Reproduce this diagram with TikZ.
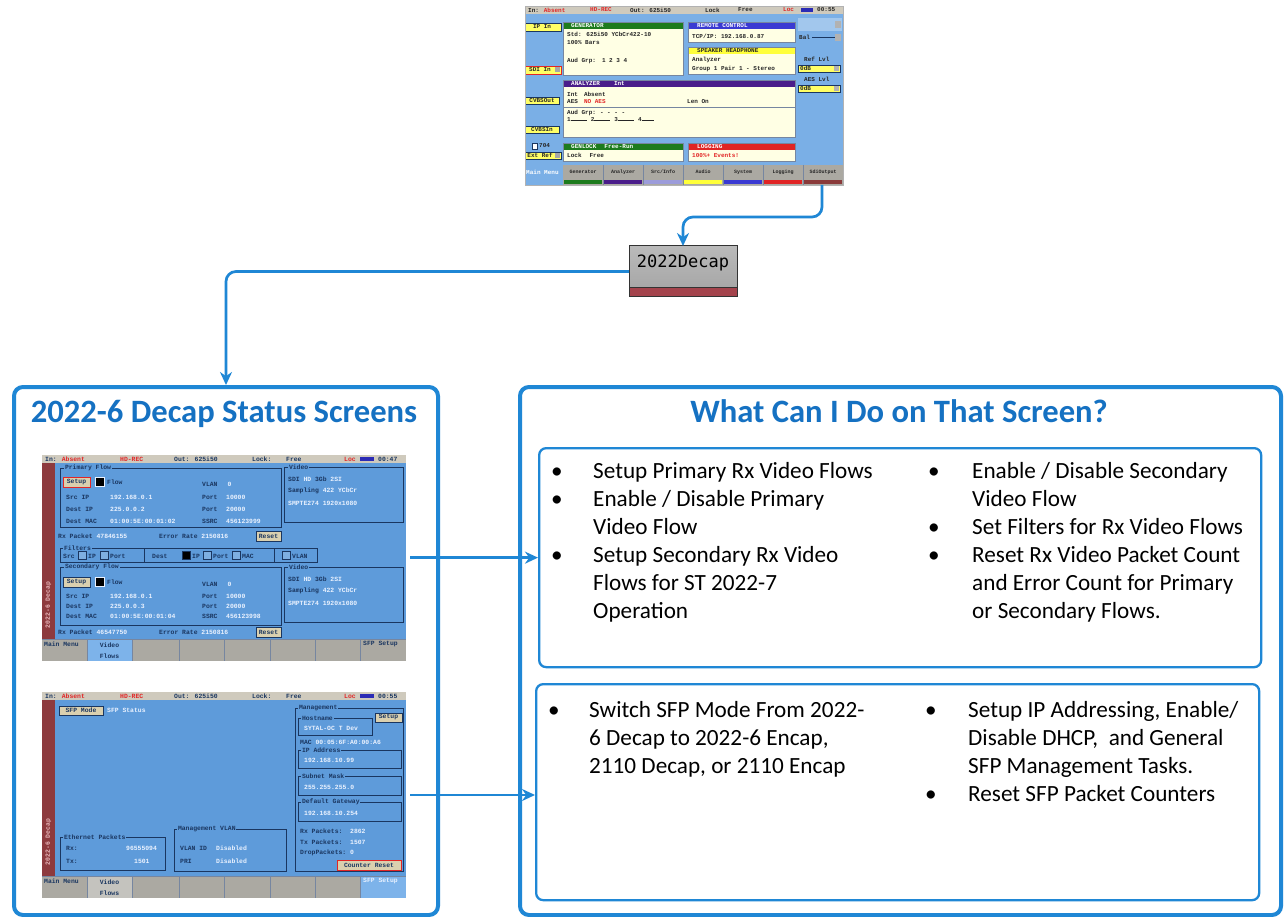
\documentclass[tikz,border=0pt]{standalone}
\usepackage{fontspec}
\setmainfont{Carlito}
\newfontfamily\scrfont{Liberation Mono}
\newfontfamily\decapfont{DejaVu Sans Mono}
\usetikzlibrary{arrows.meta, calc}
\definecolor{panelBlue}{HTML}{1F87D5}
\definecolor{titleBlue}{HTML}{1571C2}
\definecolor{scrBlue}{HTML}{5E9BDA}
\definecolor{topBlue}{HTML}{7AAFE6}
\definecolor{scrDark}{HTML}{1A3660}
\definecolor{scrLight}{HTML}{EAF2FF}
\definecolor{scrBar}{HTML}{CFCABD}
\definecolor{scrKey}{HTML}{ABA9A2}
\definecolor{scrKeyOn}{HTML}{7DB3EA}
\definecolor{scrStrip}{HTML}{8D3A3E}
\definecolor{scrPink}{HTML}{E9B8BC}
\definecolor{scrBeige}{HTML}{DAD0AF}
\definecolor{scrRed}{HTML}{E22626}
\definecolor{scrBatt}{HTML}{2B2BB5}
\definecolor{scrYellow}{HTML}{FFFF66}
\definecolor{scrCream}{HTML}{FFFFE4}
\definecolor{hdrGreen}{HTML}{1D7B1D}
\definecolor{hdrBlue}{HTML}{3A3AD2}
\definecolor{hdrYellow}{HTML}{FFFF3A}
\definecolor{hdrPurple}{HTML}{4A1D8A}
\definecolor{hdrRed}{HTML}{E02424}
\definecolor{hdrLilac}{HTML}{9C9CDA}
\definecolor{hdrBrown}{HTML}{8A3A3A}
\definecolor{decapGray}{HTML}{A3A3A3}
\definecolor{decapRed}{HTML}{A4434C}

\begin{document}
\begin{tikzpicture}[
  x=1pt, y=-1pt,
  >={Stealth[length=13pt, width=12pt]},
  panel/.style={draw=panelBlue, line width=4pt, rounded corners=9pt, inner sep=0pt, anchor=north west},
  infobox/.style={draw=panelBlue, line width=2.3pt, rounded corners=7pt, inner sep=0pt, anchor=north west},
  flow/.style={->, line width=2.7pt, draw=panelBlue},
  headline/.style={font=\fontsize{32.6}{39}\selectfont\bfseries, text=titleBlue, inner sep=0pt, anchor=base},
  itemtext/.style={font=\fontsize{23.2}{28}\selectfont, inner sep=0pt, anchor=base west},
  bulletmark/.style={font=\fontsize{23.2}{28}\selectfont, inner sep=0pt, anchor=base},
  shot/.style={inner sep=0pt, outer sep=0pt, anchor=north west},
  decapbox/.style={draw=black!80, line width=1pt, top color=decapGray!75, bottom color=decapGray,
                   inner sep=0pt, outer sep=0pt, anchor=north west, minimum width=108pt, minimum height=51pt},
  stxt/.style={font=\scrfont\bfseries\fontsize{6.4}{7}\selectfont, text=scrDark, inner sep=0pt, anchor=west},
  sval/.style={stxt, text=scrLight},
  slbl/.style={stxt, fill=scrBlue, inner xsep=0.8pt, inner ysep=0.4pt},
  ttxt/.style={stxt, font=\scrfont\bfseries\fontsize{6}{6.6}\selectfont, text=black!85},
  hdr/.style={ttxt, text=white},
  sbtn/.style={draw=scrDark, fill=scrBeige, line width=0.5pt},
  ybtn/.style={draw=scrDark, fill=scrYellow, line width=0.5pt},
  sfrm/.style={draw=scrDark, line width=0.8pt},
  sbox/.style={draw=scrDark, fill=scrBlue!80!white, line width=0.5pt},
  skey/.style={draw=scrDark!60, line width=0.5pt},
  tpanel/.style={draw=scrDark!60, line width=0.4pt}
]
\fill[white] (0,0) rectangle (1285,917);
\useasboundingbox (0,0) rectangle (1285,917);

\node[panel, minimum width=424pt, minimum height=528pt] (leftpanel) at (12,385) {};
\node[panel, minimum width=761pt, minimum height=528pt] (rightpanel) at (518,385) {};
\node[infobox, minimum width=722pt, minimum height=219pt] (box1) at (538,447) {};
\node[infobox, minimum width=723pt, minimum height=216pt] (box2) at (535,683) {};
\node[headline] (lefttitle) at (224,422) {2022-6 Decap Status Screens};
\node[headline] (righttitle) at (899,422) {What Can I Do on That Screen?};

\foreach \ty/\tx [count=\i] in {478/{Setup Primary Rx Video Flows}, 506/{Enable / Disable Primary},
    534/{Video Flow}, 562/{Setup Secondary Rx Video}, 590/{Flows for ST 2022-7}, 618/{Operation}}
  \node[itemtext] (pl\i) at (593,\ty) {\tx};
\foreach \ty/\tx [count=\i] in {478/{Enable / Disable Secondary}, 506/{Video Flow},
    534/{Set Filters for Rx Video Flows}, 562/{Reset Rx Video Packet Count},
    590/{and Error Count for Primary}, 618/{or Secondary Flows.}}
  \node[itemtext] (pr\i) at (972,\ty) {\tx};
\foreach \ty/\tx [count=\i] in {717/{Switch SFP Mode From 2022-}, 745/{6 Decap to 2022-6 Encap,},
    773/{2110 Decap, or 2110 Encap}}
  \node[itemtext] (sl\i) at (589,\ty) {\tx};
\foreach \ty/\tx [count=\i] in {717/{Setup IP Addressing, Enable/}, 745/{Disable DHCP,\ \ and General},
    773/{SFP Management Tasks.}, 801/{Reset SFP Packet Counters}}
  \node[itemtext] (sr\i) at (968,\ty) {\tx};
\foreach \bx/\by [count=\i] in {557/478, 557/506, 557/562, 934/478, 934/534, 934/562, 554/717, 931/717, 931/801}
  \node[bulletmark] (bm\i) at (\bx,\by) {\textbullet};

\node[decapbox] (decap) at (629,246) {};
\fill[decapRed] ($(decap.south west)+(0,-10)$) rectangle (decap.south east);
\draw[black!80, line width=0.8pt] ($(decap.south west)+(0,-10)$) -- ($(decap.south east)+(0,-10)$);
\draw[black!80, line width=1pt] (decap.north west) rectangle (decap.south east);
\node[font=\decapfont\fontsize{17}{20}\selectfont, inner sep=0pt, anchor=base] (decaplbl) at ($(decap.north)+(0,22)$) {2022Decap};

\node[shot, minimum width=318pt, minimum height=179pt] (topshot) at (525,6) {};
\begin{scope}[shift={(525,6)}]
  \fill[topBlue] (0,0) rectangle (318,179);
  \fill[scrBar] (0,0) rectangle (318,8);
  \node[ttxt] (t1) at (3,4) {In: \textcolor{scrRed}{Absent}};
  \node[ttxt, text=scrRed] (t2) at (65,4) {HD-REC};
  \node[ttxt] (t3) at (105,4) {Out: 625i50};
  \node[ttxt] (t4) at (180,4) {Lock};
  \node[ttxt] (t5) at (213,4) {Free};
  \node[ttxt, text=scrRed] (t6) at (258,4) {Loc};
  \fill[scrBatt] (276,1.8) rectangle (288,6.2);
  \node[ttxt] (t7) at (292,4) {00:55};
  \draw[ybtn] (0,17) rectangle (36,25);
  \node[ttxt, anchor=center] (t8) at (17,21) {IP In};
  \draw[ybtn, draw=scrRed, line width=0.8pt] (0,60) rectangle (36,68);
  \fill[gray!70] (30,61.5) rectangle (35,66.5);
  \node[ttxt, anchor=center] (t9) at (15,64) {SDI In};
  \draw[ybtn] (0,91) rectangle (34,98);
  \node[ttxt, anchor=center] (t10) at (17,94.5) {CVBSOut};
  \draw[ybtn] (0,120) rectangle (34,127);
  \node[ttxt, anchor=center] (t11) at (17,123.5) {CVBSIn};
  \draw[scrDark, fill=white, line width=0.5pt] (7,137) rectangle (12,143);
  \node[ttxt] (t12) at (14,140) {704};
  \draw[ybtn] (0,146) rectangle (36,153);
  \fill[gray!70] (30,147) rectangle (35,152);
  \node[ttxt, anchor=center] (t13) at (15,149.5) {Ext Ref};
  \fill[scrCream] (38,16) rectangle (158,69);
  \fill[hdrGreen] (38,16) rectangle (158,23);
  \draw[tpanel] (38,16) rectangle (158,69);
  \node[hdr] (t14) at (46,19.5) {GENERATOR};
  \node[ttxt] (t15) at (42,28) {Std: 625i50 YCbCr422-10};
  \node[ttxt] (t16) at (42,37) {100\% Bars};
  \node[ttxt] (t17) at (42,55) {Aud Grp:\hspace{6pt}1 2 3 4};
  \fill[scrCream] (163,16) rectangle (270,36);
  \fill[hdrBlue] (163,16) rectangle (270,23);
  \draw[tpanel] (163,16) rectangle (270,36);
  \node[hdr] (t18) at (172,19.5) {REMOTE CONTROL};
  \node[ttxt] (t19) at (167,30) {TCP/IP: 192.168.0.87};
  \fill[scrCream] (163,41) rectangle (270,68);
  \fill[hdrYellow] (163,41) rectangle (270,48);
  \draw[tpanel] (163,41) rectangle (270,68);
  \node[ttxt] (t20) at (172,44.5) {SPEAKER HEADPHONE};
  \node[ttxt] (t21) at (167,54) {Analyzer};
  \node[ttxt] (t22) at (167,63) {Group 1 Pair 1 - Stereo};
  \fill[scrCream] (38,74) rectangle (270,131);
  \fill[hdrPurple] (38,74) rectangle (270,81);
  \draw[tpanel] (38,74) rectangle (270,131);
  \draw[tpanel] (38,101) -- (270,101);
  \node[hdr] (t23) at (46,77.5) {ANALYZER\hspace{14pt}Int};
  \node[ttxt] (t24) at (42,88) {Int\hspace{6pt}Absent};
  \node[ttxt] (t25) at (42,96) {AES\hspace{6pt}\textcolor{scrRed}{NO AES}};
  \node[ttxt] (t26) at (162,96) {Len On};
  \node[ttxt] (t27) at (42,107) {Aud Grp:\hspace{4pt}- - - -};
  \node[ttxt] (t28) at (42,114) {1\rule[1.6pt]{16pt}{0.5pt}\hspace{4pt}2\rule[1.6pt]{16pt}{0.5pt}\hspace{4pt}3\rule[1.6pt]{16pt}{0.5pt}\hspace{4pt}4\rule[1.6pt]{12pt}{0.5pt}};
  \fill[scrCream] (38,137) rectangle (158,155);
  \fill[hdrGreen] (38,137) rectangle (158,144);
  \draw[tpanel] (38,137) rectangle (158,155);
  \node[hdr] (t29) at (46,140.5) {GENLOCK\hspace{8pt}Free-Run};
  \node[ttxt] (t30) at (42,149.5) {Lock\hspace{8pt}Free};
  \fill[scrCream] (163,137) rectangle (270,155);
  \fill[hdrRed] (163,137) rectangle (270,144);
  \draw[tpanel] (163,137) rectangle (270,155);
  \node[hdr] (t31) at (172,140.5) {LOGGING};
  \node[ttxt, text=scrRed] (t32) at (167,149.5) {100\%+ Events!};
  \fill[topBlue!70!white] (273,12) rectangle (317,25);
  \fill[gray!60] (310,15) rectangle (316,22);
  \draw[scrDark, line width=0.5pt] (287,31) -- (310,31);
  \fill[gray!60] (310,28) rectangle (316,35);
  \node[ttxt] (t33) at (274,31) {Bal};
  \node[ttxt] (t34) at (279,53) {Ref Lvl};
  \draw[ybtn] (273,59) rectangle (315,66);
  \fill[gray!60] (309,60) rectangle (314,65);
  \node[ttxt] (t35) at (275,62.5) {0dB};
  \node[ttxt] (t36) at (279,73) {AES Lvl};
  \draw[ybtn] (273,79) rectangle (315,86);
  \fill[gray!60] (309,80) rectangle (314,85);
  \node[ttxt] (t37) at (275,82.5) {0dB};
  \node[ttxt, text=white] (t38) at (1,166) {Main Menu};
  \fill[scrKey] (38,159) rectangle (318,179);
  \foreach \kx/\kc [count=\k] in {38/hdrGreen, 78/hdrPurple, 118/hdrLilac, 158/hdrYellow, 198/hdrBlue, 238/hdrRed, 278/hdrBrown}
    \fill[\kc] (\kx+1,174) rectangle (\kx+39,178);
  \foreach \kx in {78,118,158,198,238,278}
    \draw[skey] (\kx,159) -- (\kx,179);
  \foreach \kx/\kt [count=\k] in {58/Generator, 98/Analyzer, 138/{Src/Info}, 178/Audio, 218/System, 258/Logging, 298/SdiOutput}
    \node[ttxt, anchor=center, font=\scrfont\bfseries\fontsize{5}{6}\selectfont] (tk\k) at (\kx,166) {\kt};
\end{scope}
\draw[gray!60, line width=0.5pt] (topshot.north west) rectangle (topshot.south east);

\node[shot, minimum width=364pt, minimum height=206pt] (scr1) at (42,455) {};
\begin{scope}[shift={(42,455)}]
  \fill[scrBlue] (0,0) rectangle (364,206);
  \fill[scrBar] (0,0) rectangle (364,8);
  \fill[scrStrip] (0,8) rectangle (13,184);
  \node[stxt] (a1) at (3,4) {In: \textcolor{scrRed}{Absent}};
  \node[stxt, text=scrRed] (a2) at (78,4) {HD-REC};
  \node[stxt] (a3) at (132,4) {Out: 625i50};
  \node[stxt] (a4) at (210,4) {Lock:};
  \node[stxt] (a5) at (244,4) {Free};
  \node[stxt, text=scrRed] (a6) at (302,4) {Loc};
  \fill[scrBatt] (318,1.8) rectangle (332,6.2);
  \node[stxt] (a7) at (336,4) {00:47};
  \node[stxt, text=scrPink, anchor=center, rotate=90] (a8) at (6.5,150) {2022-6 Decap};
  \draw[sfrm] (18,13) rectangle (239,72);
  \node[slbl] (a9) at (22,13) {Primary Flow};
  \draw[sbtn, draw=scrRed, line width=0.9pt] (21,22) rectangle (48,32);
  \node[stxt, anchor=center] (a10) at (34.5,27) {Setup};
  \draw[fill=black, draw=scrLight, line width=0.5pt] (53,22.5) rectangle (62,31.5);
  \node[stxt] (a11) at (65,27) {Flow};
  \node[stxt] (a12) at (160,29) {VLAN\hspace{10pt}\textcolor{scrLight}{0}};
  \node[stxt] (a13) at (24,42) {\makebox[44pt][l]{Src IP}\textcolor{scrLight}{\makebox[92pt][l]{192.168.0.1}}\makebox[24pt][l]{Port}\textcolor{scrLight}{10000}};
  \node[stxt] (a14) at (24,54) {\makebox[44pt][l]{Dest IP}\textcolor{scrLight}{\makebox[92pt][l]{225.0.0.2}}\makebox[24pt][l]{Port}\textcolor{scrLight}{20000}};
  \node[stxt] (a15) at (24,66) {\makebox[44pt][l]{Dest MAC}\textcolor{scrLight}{\makebox[92pt][l]{01:00:5E:00:01:02}}\makebox[24pt][l]{SSRC}\textcolor{scrLight}{456123999}};
  \draw[sfrm] (242,12) rectangle (361,67);
  \node[slbl] (a16) at (246,12) {Video};
  \node[stxt] (a17) at (246,24) {SDI \textcolor{scrLight}{HD} 3Gb \textcolor{scrLight}{2SI}};
  \node[stxt] (a18) at (246,36) {Sampling \textcolor{scrLight}{422 YCbCr}};
  \node[sval] (a19) at (246,48) {SMPTE274 1920x1080};
  \node[stxt] (a20) at (16,81) {\makebox[101pt][l]{Rx Packet \textcolor{scrLight}{47846155}}Error Rate \textcolor{scrLight}{2150816}};
  \draw[sbtn] (214,76) rectangle (239,86);
  \node[stxt, anchor=center] (a21) at (226.5,81) {Reset};
  \draw[sfrm] (18,93) rectangle (275,107);
  \draw[sfrm] (102,93) -- (102,107);
  \draw[sfrm] (232,93) -- (232,107);
  \node[slbl] (a22) at (21,93) {Filters};
  \foreach \cx in {36,58,161,190,240}
    \draw[sbox] (\cx,96.5) rectangle ++(8,8);
  \draw[fill=black, draw=scrDark] (140,96.5) rectangle ++(8,8);
  \node[stxt] (a23) at (21,101) {Src};
  \node[stxt] (a24) at (46,101) {IP};
  \node[stxt] (a25) at (68,101) {Port};
  \node[stxt] (a26) at (110,101) {Dest};
  \node[stxt] (a27) at (150,101) {IP};
  \node[stxt] (a28) at (171,101) {Port};
  \node[stxt] (a29) at (200,101) {MAC};
  \node[stxt] (a30) at (250,101) {VLAN};
  \draw[sfrm] (18,112) rectangle (239,170);
  \node[slbl] (a31) at (22,112) {Secondary Flow};
  \draw[sbtn] (21,122) rectangle (48,132);
  \node[stxt, anchor=center] (a32) at (34.5,127) {Setup};
  \draw[fill=black, draw=scrLight, line width=0.5pt] (53,122.5) rectangle (62,131.5);
  \node[stxt] (a33) at (65,127) {Flow};
  \node[stxt] (a34) at (160,129) {VLAN\hspace{10pt}\textcolor{scrLight}{0}};
  \node[stxt] (a35) at (24,141) {\makebox[44pt][l]{Src IP}\textcolor{scrLight}{\makebox[92pt][l]{192.168.0.1}}\makebox[24pt][l]{Port}\textcolor{scrLight}{10000}};
  \node[stxt] (a36) at (24,151) {\makebox[44pt][l]{Dest IP}\textcolor{scrLight}{\makebox[92pt][l]{225.0.0.3}}\makebox[24pt][l]{Port}\textcolor{scrLight}{20000}};
  \node[stxt] (a37) at (24,161) {\makebox[44pt][l]{Dest MAC}\textcolor{scrLight}{\makebox[92pt][l]{01:00:5E:00:01:04}}\makebox[24pt][l]{SSRC}\textcolor{scrLight}{456123998}};
  \draw[sfrm] (242,112) rectangle (361,167);
  \node[slbl] (a38) at (246,112) {Video};
  \node[stxt] (a39) at (246,124) {SDI \textcolor{scrLight}{HD} 3Gb \textcolor{scrLight}{2SI}};
  \node[stxt] (a40) at (246,136) {Sampling \textcolor{scrLight}{422 YCbCr}};
  \node[sval] (a41) at (246,148) {SMPTE274 1920x1080};
  \node[stxt] (a42) at (16,177) {\makebox[101pt][l]{Rx Packet \textcolor{scrLight}{46547750}}Error Rate \textcolor{scrLight}{2150816}};
  \draw[sbtn] (214,172) rectangle (239,182);
  \node[stxt, anchor=center] (a43) at (226.5,177) {Reset};
  \fill[scrKey] (0,184) rectangle (364,206);
  \fill[scrKeyOn] (45,184) rectangle (90,206);
  \draw[skey] (0,184) -- (364,184);
  \foreach \kx in {45,90,137,182,228,273,318}
    \draw[skey] (\kx,184) -- (\kx,206);
  \node[stxt] (a44) at (2,189) {Main Menu};
  \node[stxt, anchor=center] (a45) at (67.5,190) {Video};
  \node[stxt, anchor=center] (a46) at (67.5,201) {Flows};
  \node[stxt] (a47) at (321,189) {SFP Setup};
\end{scope}

\node[shot, minimum width=364pt, minimum height=206pt] (scr2) at (42,692) {};
\begin{scope}[shift={(42,692)}]
  \fill[scrBlue] (0,0) rectangle (364,206);
  \fill[scrBar] (0,0) rectangle (364,8);
  \fill[scrStrip] (0,8) rectangle (13,184);
  \node[stxt] (b1) at (3,4) {In: \textcolor{scrRed}{Absent}};
  \node[stxt, text=scrRed] (b2) at (78,4) {HD-REC};
  \node[stxt] (b3) at (132,4) {Out: 625i50};
  \node[stxt] (b4) at (210,4) {Lock:};
  \node[stxt] (b5) at (244,4) {Free};
  \node[stxt, text=scrRed] (b6) at (302,4) {Loc};
  \fill[scrBatt] (318,1.8) rectangle (332,6.2);
  \node[stxt] (b7) at (336,4) {00:55};
  \node[stxt, text=scrPink, anchor=center, rotate=90] (b8) at (6.5,150) {2022-6 Decap};
  \draw[sbtn] (17,14) rectangle (61,23);
  \node[stxt, anchor=center] (b9) at (39,18.5) {SFP Mode};
  \node[sval] (b10) at (65,18.5) {SFP Status};
  \draw[sfrm] (253,16) rectangle (361,179);
  \node[slbl] (b11) at (256,16) {Management};
  \draw[sfrm] (256,26) rectangle (330,43);
  \node[slbl] (b12) at (259,26) {Hostname};
  \node[sval] (b13) at (262,36) {SYTAL-OC T Dev};
  \draw[sbtn] (333,21) rectangle (360,30);
  \node[stxt, anchor=center] (b14) at (346.5,25.5) {Setup};
  \node[stxt] (b15) at (258,50) {MAC \textcolor{scrLight}{00:05:6F:A0:00:A6}};
  \draw[sfrm] (256,58) rectangle (359,76);
  \node[slbl] (b16) at (259,58) {IP Address};
  \node[sval] (b17) at (262,68) {192.168.10.99};
  \draw[sfrm] (256,84) rectangle (359,103);
  \node[slbl] (b18) at (259,84) {Subnet Mask};
  \node[sval] (b19) at (262,95) {255.255.255.0};
  \draw[sfrm] (256,110) rectangle (359,129);
  \node[slbl] (b20) at (259,110) {Default Gateway};
  \node[sval] (b21) at (262,121) {192.168.10.254};
  \node[stxt] (b22) at (258,139) {\makebox[50pt][l]{Rx Packets:}\textcolor{scrLight}{2862}};
  \node[stxt] (b23) at (258,150) {\makebox[50pt][l]{Tx Packets:}\textcolor{scrLight}{1507}};
  \node[stxt] (b24) at (258,161) {\makebox[50pt][l]{DropPackets:}\textcolor{scrLight}{0}};
  \draw[sbtn, draw=scrRed, line width=0.9pt] (295,168) rectangle (359,178);
  \node[stxt, anchor=center] (b25) at (327,173) {Counter Reset};
  \draw[sfrm] (18,145) rectangle (123,178);
  \node[slbl] (b26) at (21,145) {Ethernet Packets};
  \node[stxt] (b27) at (24,156) {\makebox[60pt][l]{Rx:}\textcolor{scrLight}{96555094}};
  \node[stxt] (b28) at (24,169) {\makebox[68pt][l]{Tx:}\textcolor{scrLight}{1501}};
  \draw[sfrm] (132,137) rectangle (244,179);
  \node[slbl] (b29) at (135,137) {Management VLAN};
  \node[stxt] (b30) at (138,156) {\makebox[36pt][l]{VLAN ID}\textcolor{scrLight}{Disabled}};
  \node[stxt] (b31) at (138,169) {\makebox[36pt][l]{PRI}\textcolor{scrLight}{Disabled}};
  \fill[scrKey] (0,184) rectangle (364,206);
  \fill[scrKey!70!white] (45,184) rectangle (90,206);
  \fill[scrKeyOn] (318,184) rectangle (364,206);
  \draw[skey] (0,184) -- (364,184);
  \foreach \kx in {45,90,137,182,228,273,318}
    \draw[skey] (\kx,184) -- (\kx,206);
  \node[stxt] (b32) at (2,189) {Main Menu};
  \node[stxt, anchor=center] (b33) at (67.5,190) {Video};
  \node[stxt, anchor=center] (b34) at (67.5,201) {Flows};
  \node[sval] (b35) at (321,189) {SFP Setup};
\end{scope}

\draw[flow, rounded corners=10pt] ($(topshot.south east)+(-21,0)$) -- ++(0,32) -| (decap.north);
\draw[flow, rounded corners=10pt] (decap.west) -| (leftpanel.north);
\draw[flow, shorten <=4pt] (scr1.east |- box1.west) -- (box1.west);
\draw[flow, shorten <=4pt] (scr2.east) -- (scr2.east -| box2.west);
\end{tikzpicture}
\end{document}
